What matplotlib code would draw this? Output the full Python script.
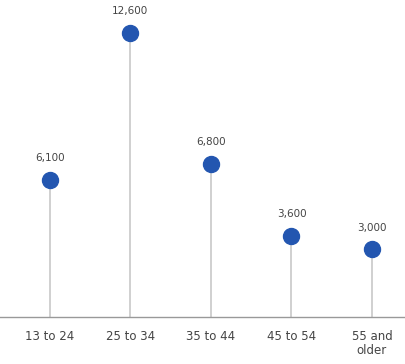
import matplotlib.pyplot as plt

# Age groups and counts
age_groups = ['13 to 24', '25 to 34', '35 to 44', '45 to 54', '55 and\nolder']
counts = [6100, 12600, 6800, 3600, 3000]
labels = ['6,100', '12,600', '6,800', '3,600', '3,000']

dot_color = '#2356b0'
stem_color = '#c8c8c8'
text_color = '#444444'

fig = plt.figure(figsize=(4.05, 3.64), dpi=100)
ax = fig.add_axes([0.0, 47 / 364, 1.0, 297 / 364])

x = list(range(len(age_groups)))
ax.vlines(x, 0, counts, color=stem_color, linewidth=1.2, zorder=1)
ax.plot(x, counts, 'o', color=dot_color, markersize=11.5, zorder=2)

for xi, yi, lab in zip(x, counts, labels):
    ax.annotate(lab, (xi, yi), xytext=(0, 12), textcoords='offset points',
                ha='center', va='bottom', fontsize=7.5, color=text_color)

ax.set_xlim(-0.62, 4.41)
ax.set_ylim(0, 12600 * 297 / 284)
ax.set_xticks(x)
ax.set_xticklabels(age_groups, fontsize=8.5, color=text_color, linespacing=1.1)
ax.tick_params(axis='x', length=0, pad=9)
ax.set_yticks([])

for side in ['top', 'right', 'left']:
    ax.spines[side].set_visible(False)
ax.spines['bottom'].set_color('#999999')
ax.spines['bottom'].set_linewidth(1.0)

fig.savefig('out.png', dpi=100)
